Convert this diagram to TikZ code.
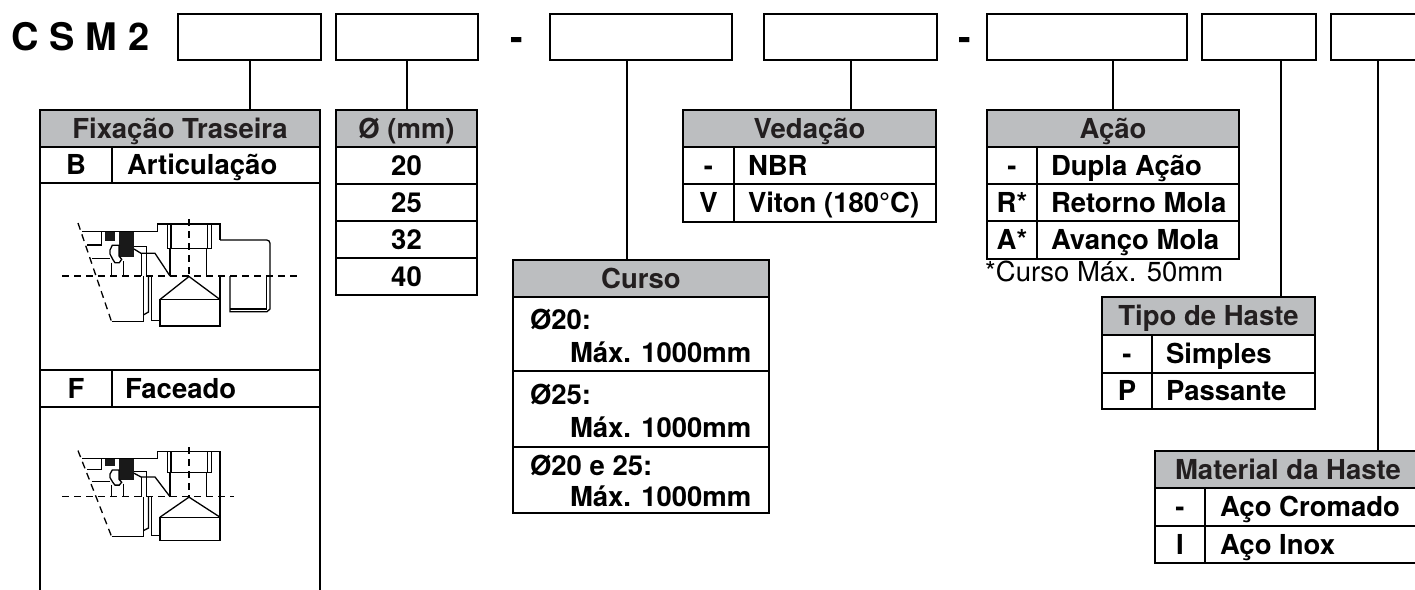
\documentclass[tikz,border=0pt]{standalone}
\usepackage{fontspec}
\setmainfont{TeX Gyre Heros}
\newfontfamily\bodyf{TeX Gyre Heros}
\usetikzlibrary{calc}
\definecolor{hdrgray}{RGB}{188,190,192}
\definecolor{hdrtext}{RGB}{35,31,32}
\newcommand\cylcommon{%
  \draw[dsh] (-111,-53) -- (-77,47);
  \draw[dsh] (0,-57) -- (0,0);
  \draw[dr] (-107,-44.3) -- (-31.7,-44.3) -- (-31.7,-52) -- (31,-52) -- (31,-36);
  \draw[dr] (-21.7,-52) -- (-21.7,-27.7) -- (22.7,-27.7) -- (22.7,-52);
  \draw[dr] (-18,-52) -- (-18,-27.7) (18.7,-52) -- (18.7,-27.7);
  \draw[dr] (-19,-27.7) -- (-19,0) (17.7,-27.7) -- (17.7,0);
  \fill[black!90] (-84,-43.7) rectangle (-74,-35.3);
  \fill[black!90] (-70,-43.7) rectangle (-55,-19.3);
  \draw[dr] (-102,-31) -- (-87.3,-31) -- (-87.3,-44.3);
  \draw[dr] (-97.3,-17.7) -- (-79,-17.7);
  \draw[dr] (-79,-26) -- (-76.7,-30.7) -- (-70,-30.7) -- (-70,-20) -- (-67.3,-16.7) -- (-69.7,-13.3) -- (-74,-13.3) -- (-76.3,-16.7) -- (-79,-22) -- cycle;
  \draw[dr] (-77.3,-13.3) -- (-77.3,0) (-65.7,-15) -- (-65.7,0);
  \draw[dr] (-55,-29.3) -- (-42.3,-29.3) -- (-42.3,0);
  \draw[dr] (-55,-27) -- (-48,-22.7) -- (-34,-22.7) -- (-19,0);
  \draw[dr] (-47.3,-22.7) -- (-47.3,0);
  \draw[dr] (-77.3,45.7) -- (-45.7,45.7) -- (-45.7,0);
  \draw[dr] (-45.7,39) -- (-40.5,36) -- (-40.5,0);
  \draw[dr] (-37.3,0) -- (-37.3,44.7) -- (-29,44.7);
  \draw[dr] (-29,23.5) rectangle (31,50);
  \draw[dr] (-29,23.5) -- (0,0.5) -- (31,23.5);
}
\newcommand\cylBright{%
  \draw[dsh] (-127,0) -- (109,0);
  \draw[dr] (31,-36) -- (77.7,-36) arc[start angle=-90, end angle=0, radius=3.3] -- (81,33) -- (78,35.7) -- (41,35.7) -- (41,0);
  \draw[dr] (77.7,0) -- (77.7,33) -- (41,33);
  \draw[dr] (31,0) -- (31,23.5);
}
\newcommand\cylFright{%
  \draw[dsh] (-127,0) -- (45,0);
  \draw[dr] (31,-36) -- (31,23.5);
}
\begin{document}
\begin{tikzpicture}[x=1pt,y=-1pt,
  box/.style={draw, line width=2.2pt, inner sep=0pt, outer sep=0pt, anchor=north west},
  tbl/.style={draw, line width=2pt, inner sep=0pt, outer sep=0pt, anchor=north west,
    font=\bodyf\bfseries\fontsize{27.5}{31}\selectfont, text height=19.7pt, text depth=0pt},
  hdr/.style={tbl, fill=hdrgray, text=hdrtext},
  txt/.style={inner sep=0pt, outer sep=0pt, font=\bodyf\bfseries\fontsize{27.5}{31}\selectfont,
    text height=19.7pt, text depth=0pt},
  ttl/.style={inner sep=0pt, outer sep=0pt, font=\bfseries\fontsize{38}{42}\selectfont},
  conn/.style={line width=2pt},
  dr/.style={line width=1.3pt},
  dsh/.style={line width=1.3pt, dash pattern=on 7pt off 5pt}]
\useasboundingbox (0,0) rectangle (1415,589);
\clip (0,0) rectangle (1415,589);
\fill[white] (0,0) rectangle (1415,589);

% title and code boxes
\node[ttl, anchor=base west] (title) at (12,50.7) {C S M 2};
\node[box, minimum width=143, minimum height=46] (b1) at (178,14) {};
\node[box, minimum width=142, minimum height=46] (b2) at (336,14) {};
\node[ttl, anchor=base] (d1) at (517,50.7) {-};
\node[box, minimum width=182, minimum height=46] (b3) at (550,14) {};
\node[box, minimum width=173, minimum height=46] (b4) at (764,14) {};
\node[ttl, anchor=base] (d2) at (965,50.7) {-};
\node[box, minimum width=200, minimum height=46] (b5) at (987,14) {};
\node[box, minimum width=114, minimum height=46] (b6) at (1202,14) {};
\node[box, minimum width=94, minimum height=46] (b7) at (1331,14) {};

% Fixacao Traseira
\node[hdr, minimum width=280, minimum height=37] (fixH) at (40,110) {Fixação Traseira};
\node[tbl, minimum width=72, minimum height=36] (fixB) at (fixH.south west) {B};
\node[tbl, minimum width=208, minimum height=36] (fixBt) at (fixB.north east) {};
\node[txt, anchor=west] (fixBx) at ([xshift=15]fixBt.west) {Articulação};
\node[tbl, minimum width=280, minimum height=187] (fixBimg) at (fixB.south west) {};
\node[tbl, minimum width=72, minimum height=37] (fixF) at (fixBimg.south west) {F};
\node[tbl, minimum width=208, minimum height=37] (fixFt) at (fixF.north east) {};
\node[txt, anchor=west] (fixFx) at ([xshift=13]fixFt.west) {Faceado};
\draw[conn] (fixF.south west) -- ++(0,200);
\draw[conn] (fixFt.south east) -- ++(0,200);
\begin{scope}[shift={(189,276)}] \cylcommon \cylBright \end{scope}
\begin{scope}[shift={(189,496.7)}, yscale=0.87] \cylcommon \cylFright \end{scope}

% Diameter
\node[hdr, minimum width=141, minimum height=37] (diaH) at (336,110) {Ø (mm)};
\node[tbl, minimum width=141, minimum height=37] (d20) at (diaH.south west) {20};
\node[tbl, minimum width=141, minimum height=37] (d25) at (d20.south west) {25};
\node[tbl, minimum width=141, minimum height=37] (d32) at (d25.south west) {32};
\node[tbl, minimum width=141, minimum height=37] (d40) at (d32.south west) {40};

% Curso
\node[hdr, minimum width=256, minimum height=37] (curH) at (513,260) {Curso};
\node[tbl, minimum width=256, minimum height=74] (cur1) at (curH.south west) {};
\node[tbl, minimum width=256, minimum height=76] (cur2) at (cur1.south west) {};
\node[tbl, minimum width=256, minimum height=66] (cur3) at (cur2.south west) {};
\node[txt, anchor=base west] (c1a) at ($(cur1.north west)+(17,32)$) {Ø20:};
\node[txt, anchor=base west] (c1b) at ($(cur1.north west)+(57,65)$) {Máx. 1000mm};
\node[txt, anchor=base west] (c2a) at ($(cur2.north west)+(17,33)$) {Ø25:};
\node[txt, anchor=base west] (c2b) at ($(cur2.north west)+(57,66)$) {Máx. 1000mm};
\node[txt, anchor=base west] (c3a) at ($(cur3.north west)+(17,28)$) {Ø20 e 25:};
\node[txt, anchor=base west] (c3b) at ($(cur3.north west)+(57,59)$) {Máx. 1000mm};

% Vedacao
\node[hdr, minimum width=253, minimum height=37] (vedH) at (683,110) {Vedação};
\node[tbl, minimum width=51, minimum height=37] (ved1) at (vedH.south west) {-};
\node[tbl, minimum width=202, minimum height=37] (ved1t) at (ved1.north east) {};
\node[txt, anchor=west] (ved1x) at ([xshift=14]ved1t.west) {NBR};
\node[tbl, minimum width=51, minimum height=38] (ved2) at (ved1.south west) {V};
\node[tbl, minimum width=202, minimum height=38] (ved2t) at (ved2.north east) {};
\node[txt, anchor=west] (ved2x) at ([xshift=14]ved2t.west) {Viton (180°C)};

% Acao
\node[hdr, minimum width=252, minimum height=37] (acaH) at (987,110) {Ação};
\node[tbl, minimum width=50, minimum height=37] (aca1) at (acaH.south west) {-};
\node[tbl, minimum width=202, minimum height=37] (aca1t) at (aca1.north east) {};
\node[txt, anchor=west] (aca1x) at ([xshift=14]aca1t.west) {Dupla Ação};
\node[tbl, minimum width=50, minimum height=37] (aca2) at (aca1.south west) {R*};
\node[tbl, minimum width=202, minimum height=37] (aca2t) at (aca2.north east) {};
\node[txt, anchor=west] (aca2x) at ([xshift=14]aca2t.west) {Retorno Mola};
\node[tbl, minimum width=50, minimum height=38] (aca3) at (aca2.south west) {A*};
\node[tbl, minimum width=202, minimum height=38] (aca3t) at (aca3.north east) {};
\node[txt, anchor=west] (aca3x) at ([xshift=14]aca3t.west) {Avanço Mola};
\node[anchor=base west, inner sep=0pt, font=\bodyf\fontsize{27.5}{31}\selectfont] (nota) at ($(aca3.south west)+(-2,22)$) {*Curso Máx. 50mm};

% Tipo de Haste
\node[hdr, minimum width=213, minimum height=38] (tipH) at (1102,297) {Tipo de Haste};
\node[tbl, minimum width=50, minimum height=38] (tip1) at (tipH.south west) {-};
\node[tbl, minimum width=163, minimum height=38] (tip1t) at (tip1.north east) {};
\node[txt, anchor=west] (tip1x) at ([xshift=14]tip1t.west) {Simples};
\node[tbl, minimum width=50, minimum height=36] (tip2) at (tip1.south west) {P};
\node[tbl, minimum width=163, minimum height=36] (tip2t) at (tip2.north east) {};
\node[txt, anchor=west] (tip2x) at ([xshift=14]tip2t.west) {Passante};

% Material da Haste
\node[hdr, minimum width=266, minimum height=37] (matH) at (1155,451) {Material da Haste};
\node[tbl, minimum width=50, minimum height=38] (mat1) at (matH.south west) {-};
\node[tbl, minimum width=216, minimum height=38] (mat1t) at (mat1.north east) {};
\node[txt, anchor=west] (mat1x) at ([xshift=15]mat1t.west) {Aço Cromado};
\node[tbl, minimum width=50, minimum height=37] (mat2) at (mat1.south west) {I};
\node[tbl, minimum width=216, minimum height=37] (mat2t) at (mat2.north east) {};
\node[txt, anchor=west] (mat2x) at ([xshift=15]mat2t.west) {Aço Inox};

% connectors
\draw[conn] (b1.south) -- (b1.south |- fixH.north);
\draw[conn] (b2.south) -- (b2.south |- diaH.north);
\coordinate (s3) at ([xshift=77]b3.south west);
\draw[conn] (s3) -- (s3 |- curH.north);
\draw[conn] (b4.south) -- (b4.south |- vedH.north);
\draw[conn] (acaH.north) -- (acaH.north |- b5.south);
\coordinate (s6) at ([xshift=79]b6.south west);
\draw[conn] (s6) -- (s6 |- tipH.north);
\draw[conn] (b7.south) -- (b7.south |- matH.north);
\end{tikzpicture}
\end{document}
